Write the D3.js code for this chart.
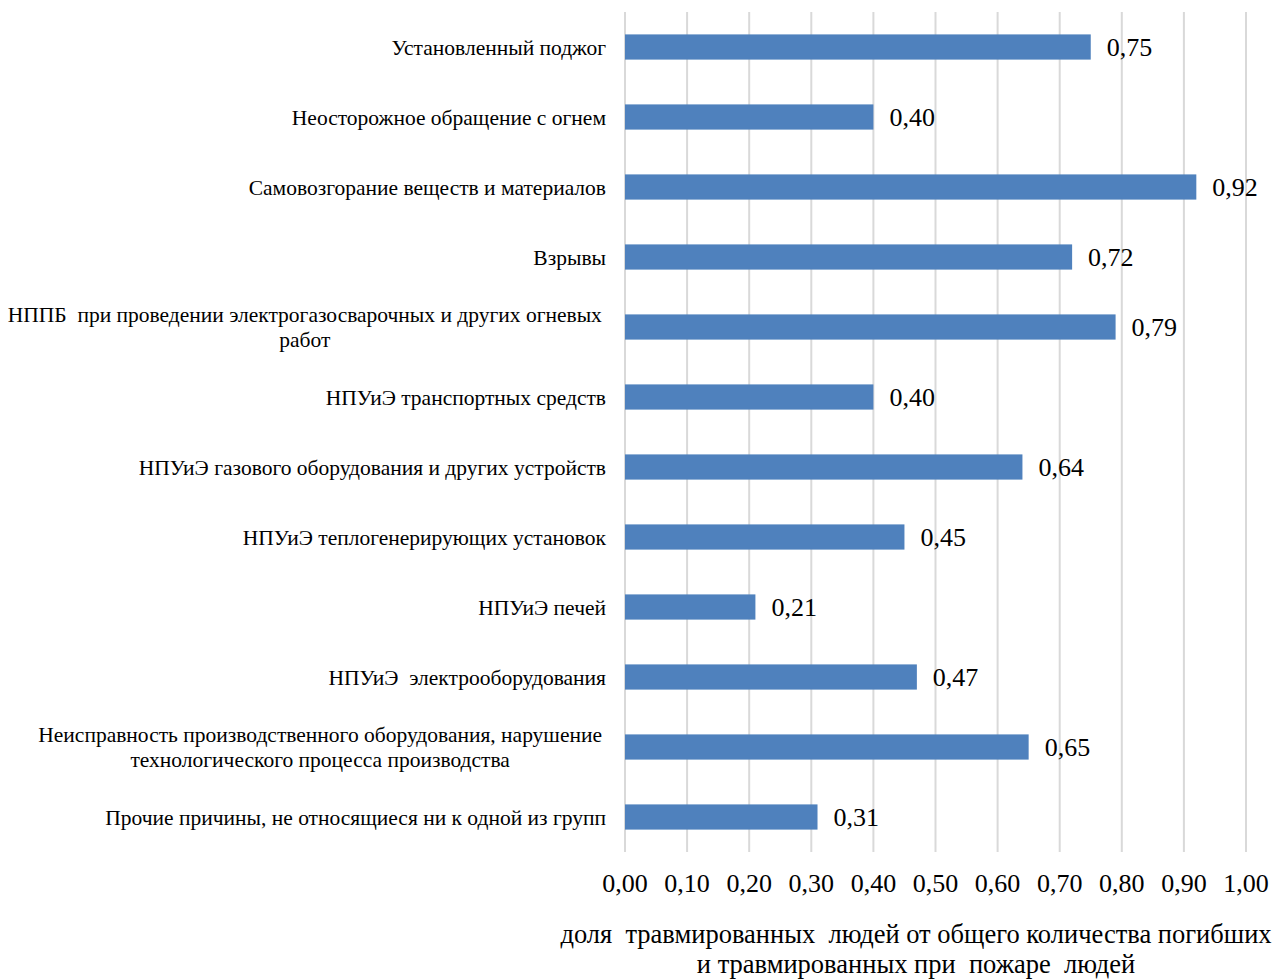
<!DOCTYPE html>
<html lang="ru">
<head>
<meta charset="UTF-8">
<title>Причины пожаров</title>
<style>
  html, body { margin: 0; padding: 0; background: #fff; }
  svg { display: block; font-family: "Liberation Serif", "Times New Roman", serif; }
  svg text { white-space: pre; }
</style>
</head>
<body>
<svg id="svg" width="1278" height="980"></svg>
<script src="https://d3js.org/d3.v7.min.js"></script>
<script>
  // categories (top to bottom), multi-line labels split by \n
  const categories = [
    "Установленный поджог",
    "Неосторожное обращение с огнем",
    "Самовозгорание веществ и материалов",
    "Взрывы",
    "НППБ  при проведении электрогазосварочных и других огневых\nработ",
    "НПУиЭ транспортных средств",
    "НПУиЭ газового оборудования и других устройств",
    "НПУиЭ теплогенерирующих установок",
    "НПУиЭ печей",
    "НПУиЭ  электрооборудования",
    "Неисправность производственного оборудования, нарушение\nтехнологического процесса производства",
    "Прочие причины, не относящиеся ни к одной из групп"
  ];
  const values = [0.75, 0.40, 0.92, 0.72, 0.79, 0.40, 0.64, 0.45, 0.21, 0.47, 0.65, 0.31];
  const xTicks = [0, 0.1, 0.2, 0.3, 0.4, 0.5, 0.6, 0.7, 0.8, 0.9, 1.0];
  const axisTitle = ["доля  травмированных  людей от общего количества погибших", "и травмированных при  пожаре  людей"];

  const margin = { top: 12, left: 625, right: 32, bottom: 128 };
  const width = 1278 - margin.left - margin.right;
  const height = 980 - margin.top - margin.bottom;

  const fmt = v => v.toFixed(2).replace(".", ",");

  const x = d3.scaleLinear().domain([0, 1]).range([margin.left, margin.left + width]);
  const y = d3.scaleBand().domain(categories).range([margin.top, margin.top + height]).paddingInner(0.64).paddingOuter(0.32);

  const svg = d3.select("#svg");

  // gridlines
  svg.append("g")
    .selectAll("line")
    .data(xTicks)
    .join("line")
    .attr("x1", d => x(d)).attr("x2", d => x(d))
    .attr("y1", margin.top).attr("y2", margin.top + height)
    .attr("stroke", "#d9d9d9")
    .attr("stroke-width", 2);

  // bars
  svg.append("g")
    .selectAll("rect")
    .data(values)
    .join("rect")
    .attr("x", x(0))
    .attr("y", (d, i) => y(categories[i]))
    .attr("width", d => x(d) - x(0))
    .attr("height", y.bandwidth())
    .attr("fill", "#4f81bd");

  // value labels
  svg.append("g")
    .selectAll("text")
    .data(values)
    .join("text")
    .attr("x", d => x(d) + 16)
    .attr("y", (d, i) => y(categories[i]) + y.bandwidth() / 2)
    .attr("dy", "0.35em")
    .attr("font-size", 26)
    .attr("fill", "#000")
    .text(fmt);

  // category labels
  const labelRight = 606;
  const labels = svg.append("g");
  categories.forEach(c => {
    const lines = c.split("\n");
    const cy = y(c) + y.bandwidth() / 2;
    const lh = 25;
    const t = labels.append("text")
      .attr("font-size", 21.5)
      .attr("fill", "#000");
    lines.forEach((ln, j) => {
      t.append("tspan")
        .attr("x", labelRight)
        .attr("y", cy + (j - (lines.length - 1) / 2) * lh)
        .attr("dy", "0.35em")
        .text(ln);
    });
    if (lines.length === 1) {
      t.attr("text-anchor", "end");
    } else {
      // center multi-line blocks, right edge on labelRight
      const w = t.node().getBBox().width;
      t.attr("text-anchor", "middle");
      t.selectAll("tspan").attr("x", labelRight - 4 - w / 2);
    }
  });

  // x axis tick labels
  svg.append("g")
    .selectAll("text")
    .data(xTicks)
    .join("text")
    .attr("x", d => x(d))
    .attr("y", 883)
    .attr("dy", "0.35em")
    .attr("text-anchor", "middle")
    .attr("font-size", 26)
    .text(fmt);

  // axis title
  svg.append("g")
    .selectAll("text")
    .data(axisTitle)
    .join("text")
    .attr("x", 916)
    .attr("y", (d, i) => 934 + i * 30)
    .attr("dy", "0.35em")
    .attr("text-anchor", "middle")
    .attr("font-size", 26.5)
    .text(d => d);
</script>
</body>
</html>
